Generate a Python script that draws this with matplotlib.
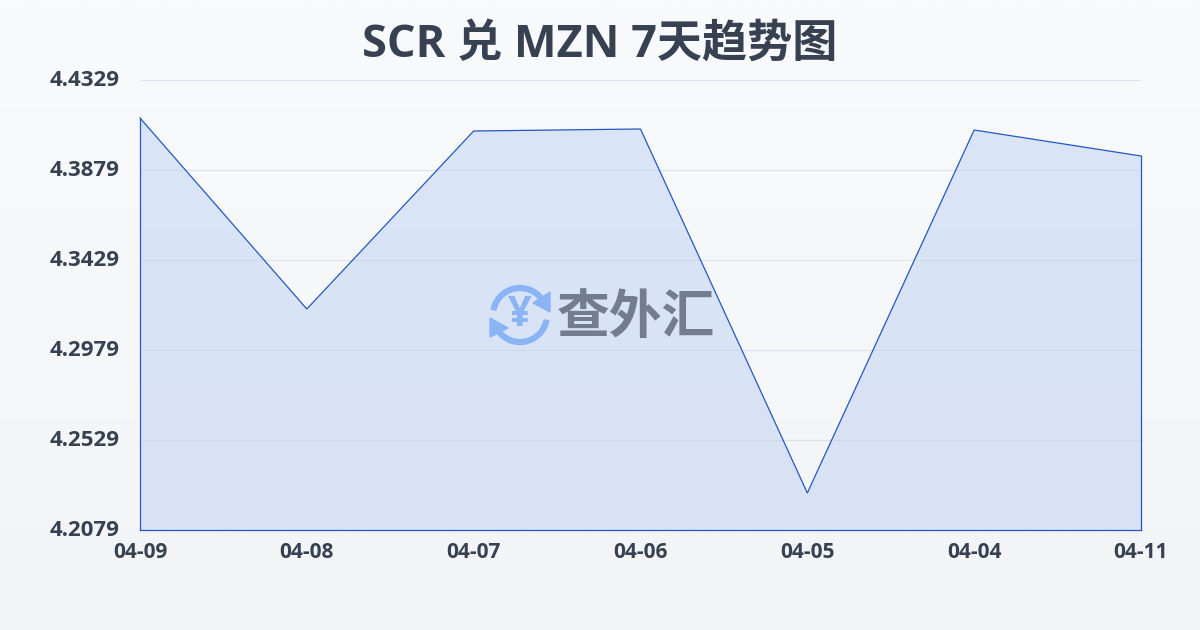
import matplotlib
matplotlib.use('Agg')
import matplotlib.pyplot as plt
import numpy as np
from matplotlib.patches import Arc, Polygon

plt.rcParams['font.family'] = ['Open Sans', 'Noto Sans CJK SC', 'DejaVu Sans']

dates = ['04-09', '04-08', '04-07', '04-06', '04-05', '04-04', '04-11']
rates = [4.4139, 4.3184, 4.4074, 4.4084, 4.2264, 4.4079, 4.3949]
y_ticks = [4.2079, 4.2529, 4.2979, 4.3429, 4.3879, 4.4329]
y_labels = ['4.2079', '4.2529', '4.2979', '4.3429', '4.3879', '4.4329']
title = 'SCR 兑 MZN 7天趋势图'

W, H = 1200, 630
text_col = '#374151'
line_col = '#2558c0'

fig = plt.figure(figsize=(W / 100, H / 100), dpi=100)

# page background, light vertical gradient
bg = fig.add_axes([0, 0, 1, 1], zorder=0)
bg.imshow(np.linspace(0, 1, 256).reshape(-1, 1), aspect='auto', extent=[0, W, H, 0],
          cmap=matplotlib.colors.LinearSegmentedColormap.from_list('bg', ['#f9fafb', '#f3f4f6']))
bg.set_xlim(0, W)
bg.set_ylim(H, 0)
bg.axis('off')

ax = fig.add_axes([140 / W, 1 - 530 / H, 1001 / W, 450 / H], zorder=1)
ax.patch.set_alpha(0)
x = np.arange(len(dates))

# area fill with gradient, clipped to the line
grad = matplotlib.colors.LinearSegmentedColormap.from_list('fill', ['#d9e5f8', '#dae2f5'])
im = ax.imshow(np.linspace(0, 1, 256).reshape(-1, 1), aspect='auto', cmap=grad, zorder=1,
               extent=[0, len(dates) - 1, y_ticks[0], y_ticks[-1]])
poly = Polygon(list(zip(x, rates)) + [(x[-1], y_ticks[0]), (0, y_ticks[0])], closed=True,
               facecolor='none', edgecolor='none', transform=ax.transData)
ax.add_patch(poly)
im.set_clip_path(poly)
ax.set_xlim(0, len(dates) - 1)
ax.set_ylim(y_ticks[0], y_ticks[-1])

for t in y_ticks:
    ax.axhline(t, color='#c8cfdc', lw=0.8, alpha=0.5, zorder=2)
ax.plot(x, rates, color=line_col, lw=0.9, zorder=3, clip_on=False)
ax.plot([0, 0], [rates[0], y_ticks[0]], color=line_col, lw=0.9, zorder=3, clip_on=False)
ax.plot([x[-1], x[-1]], [rates[-1], y_ticks[0]], color=line_col, lw=0.9, zorder=3, clip_on=False)
ax.plot([0, x[-1]], [y_ticks[0], y_ticks[0]], color=line_col, lw=0.9, zorder=3, clip_on=False)

for s in ax.spines.values():
    s.set_visible(False)
ax.set_xticks(x, dates)
ax.set_yticks(y_ticks, [])
ax.tick_params(axis='x', length=0, pad=8.5, labelsize=15, labelcolor=text_col)
ax.tick_params(axis='y', length=0)
for lab in ax.get_xticklabels():
    lab.set_fontweight('bold')
for t, s in zip(y_ticks, y_labels):
    ax.annotate(s, xy=(0, t), xycoords=('axes fraction', 'data'), xytext=(-14.5, -0.5), textcoords='offset points',
                ha='right', va='center', fontsize=16, fontweight='bold', color=text_col)

fig.text(600 / W, 1 - 45 / H, title, ha='center', va='center', fontsize=32.5, fontweight='bold', color=text_col)

# watermark, drawn in page pixels
wm = fig.add_axes([0, 0, 1, 1], zorder=2)
wm.set_xlim(0, W)
wm.set_ylim(H, 0)
wm.axis('off')
blue = '#8ab4f4'
cx, cy = 520, 315
wm.add_patch(Arc((cx, cy), 54, 54, theta1=190, theta2=325, color=blue, lw=4.5))
wm.add_patch(Arc((cx, cy), 54, 54, theta1=10, theta2=145, color=blue, lw=4.5))
wm.add_patch(Polygon([(550, 292), (550, 312), (533, 303)], closed=True, color=blue))
wm.add_patch(Polygon([(490, 318), (490, 337), (508, 328)], closed=True, color=blue))
wm.text(cx, cy, '¥', ha='center', va='center', fontsize=30, fontweight='bold', color=blue)
wm.text(636, 317, '查外汇', ha='center', va='center', fontsize=38, fontweight='bold', color='#737d8f',
        family=['Noto Sans CJK SC', 'DejaVu Sans'])

fig.savefig('out.png', dpi=100)
